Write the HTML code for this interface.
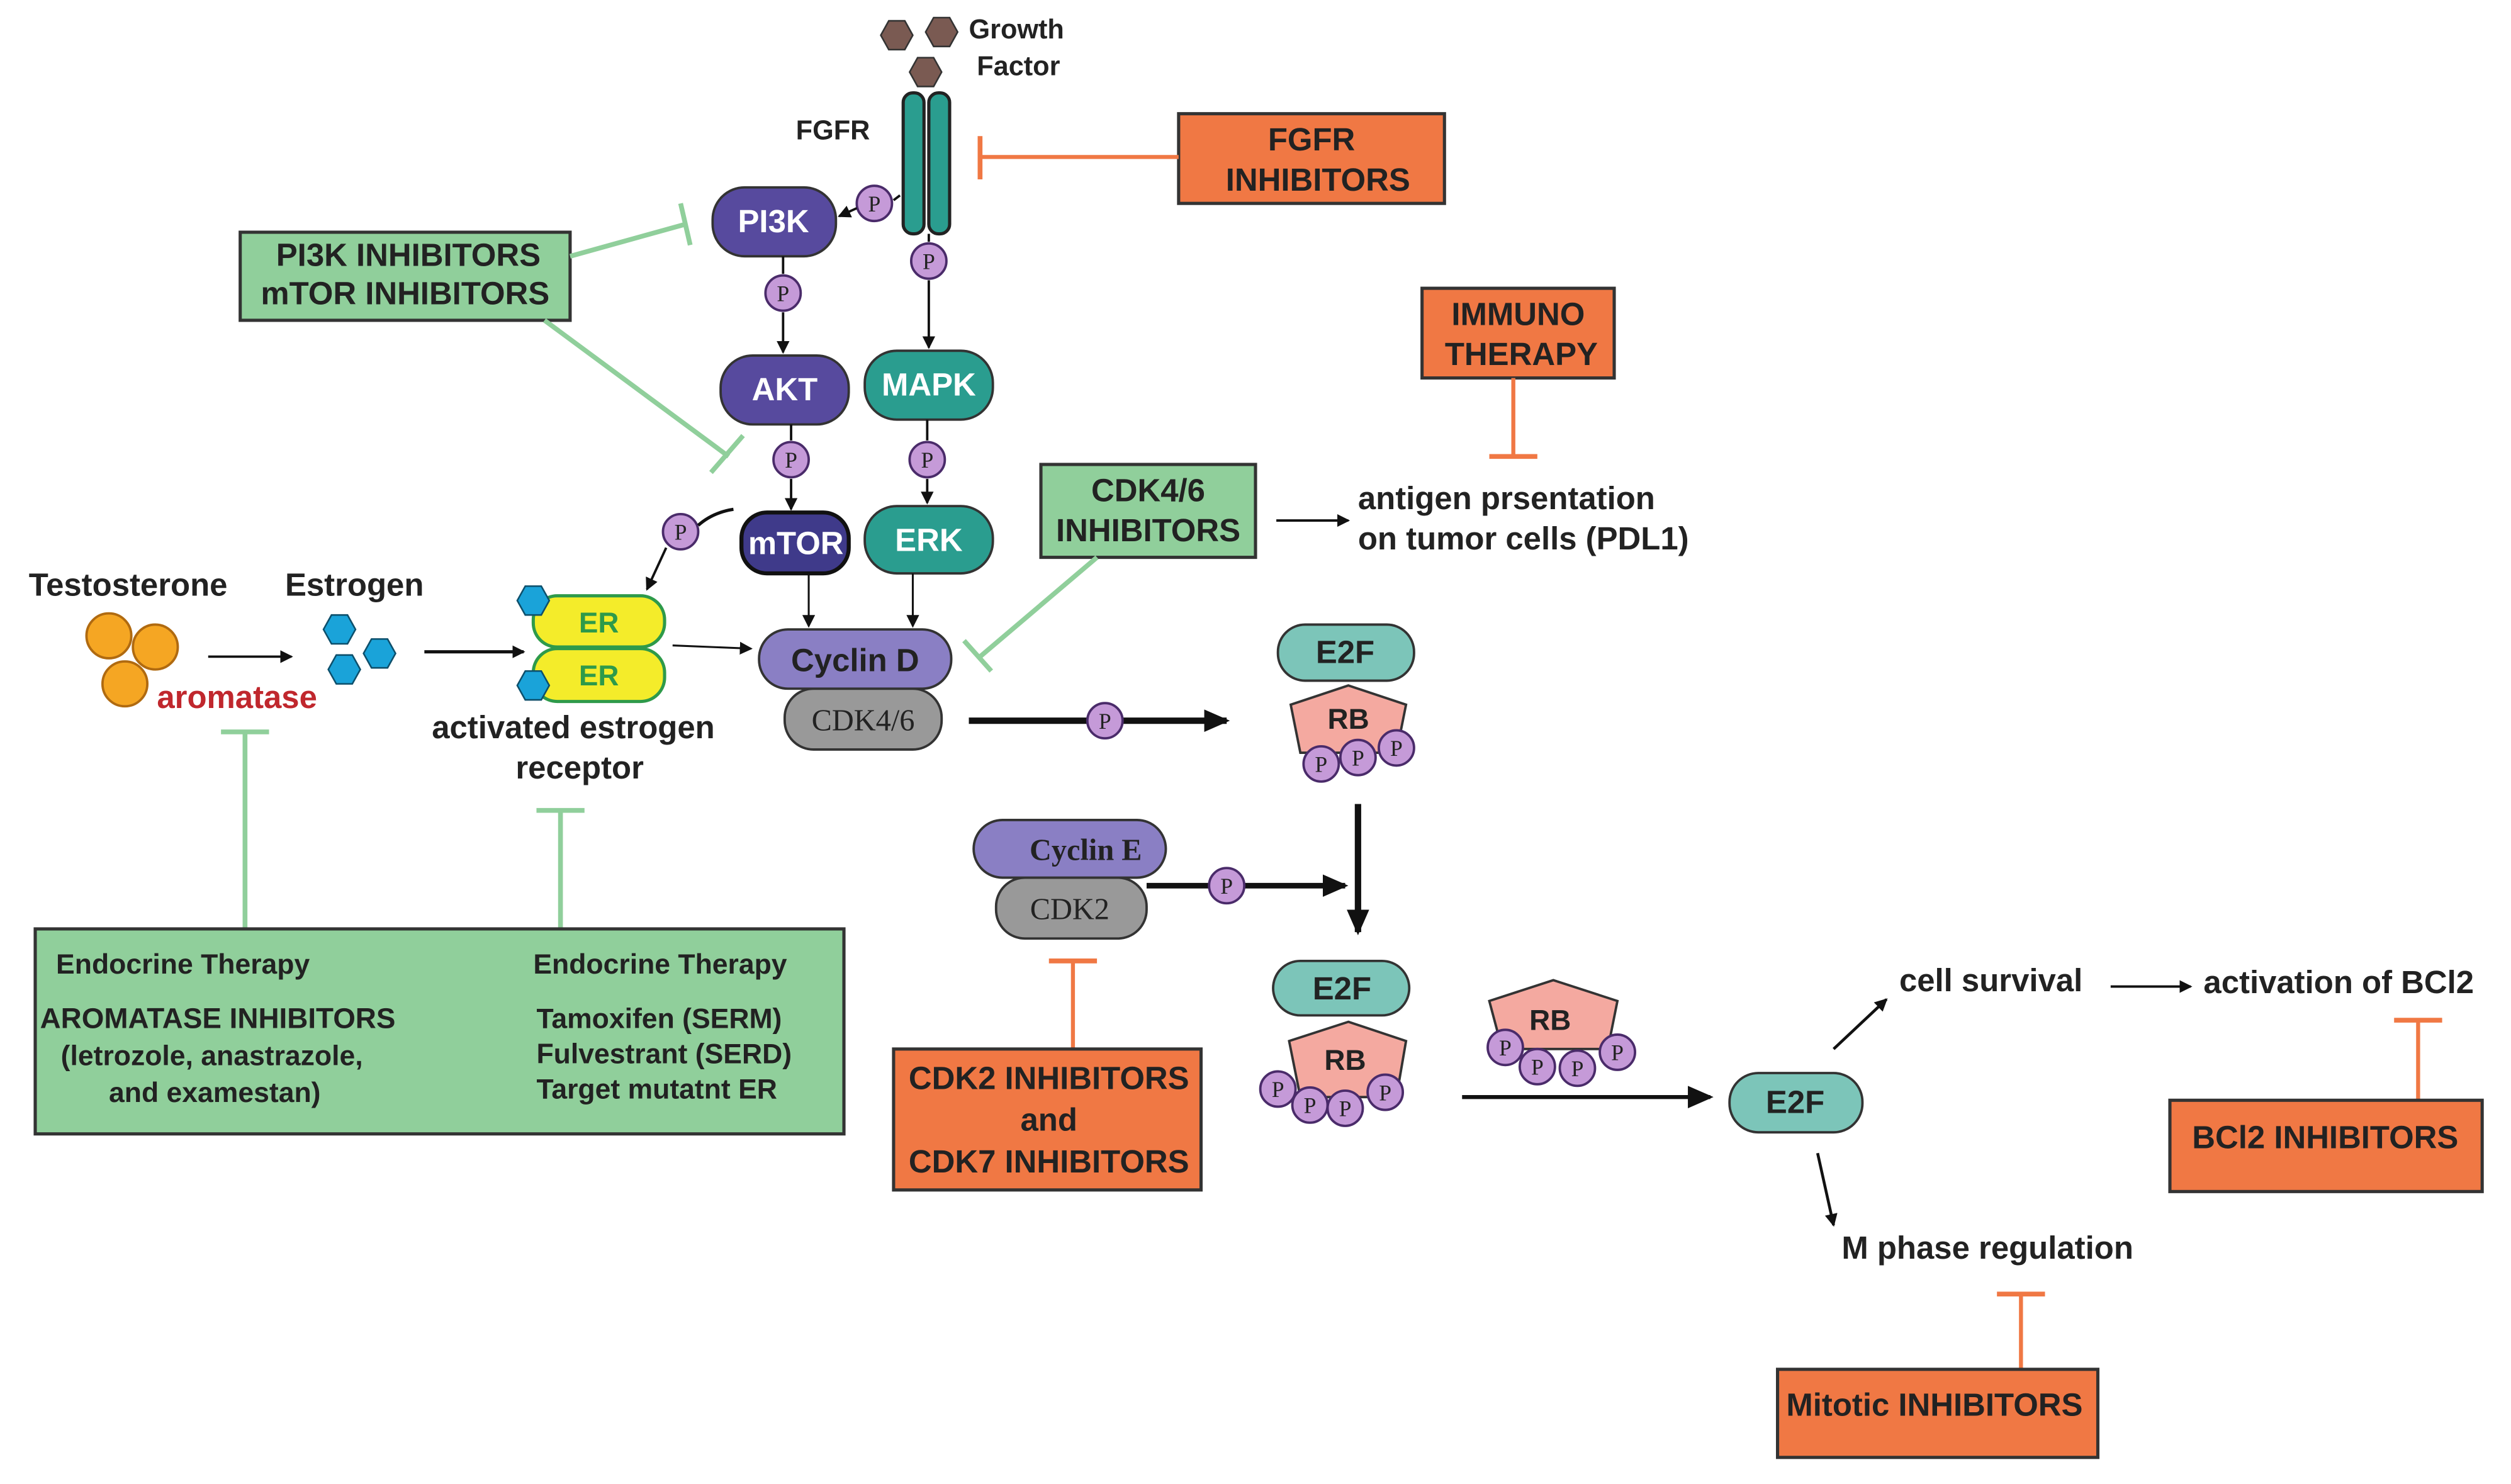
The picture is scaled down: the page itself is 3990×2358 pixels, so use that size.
<!DOCTYPE html>
<html><head><meta charset="utf-8"><style>html,body{margin:0;padding:0;background:#fff}svg{display:block}</style></head><body>
<svg width="3990" height="2358" viewBox="0 0 1568 926.6" preserveAspectRatio="none" xmlns="http://www.w3.org/2000/svg" font-family="Liberation Sans, sans-serif" font-weight="bold">
<defs>
<marker id="a" markerWidth="8" markerHeight="8" refX="7" refY="4" orient="auto" markerUnits="userSpaceOnUse"><path d="M0,0 L8,4 L0,8 z" fill="#111"/></marker>
<marker id="b" markerWidth="16" markerHeight="14" refX="14" refY="7" orient="auto" markerUnits="userSpaceOnUse"><path d="M0,0 L16,7 L0,14 z" fill="#111"/></marker>
<g id="p"><circle r="11" fill="#c59ad8" stroke="#4a2b6a" stroke-width="1.5"/><text y="5" text-anchor="middle" font-size="14" font-weight="normal" font-family="Liberation Serif, serif" fill="#222">P</text></g>
</defs>
<g fill="#7a5a52" stroke="#333" stroke-width="1">
<polygon points="550,22 555,13 565,13 570,22 565,31 555,31"/>
<polygon points="578,20 583,11 593,11 598,20 593,29 583,29"/>
<polygon points="568,45 573,36 583,36 588,45 583,54 573,54"/>
</g>
<text x="605" y="24" font-size="17" fill="#222">Growth</text>
<text x="610" y="47" font-size="17" fill="#222">Factor</text>
<text x="497" y="87" font-size="17" fill="#222">FGFR</text>
<rect x="564" y="58" width="13" height="88" rx="6" fill="#2a9d8f" stroke="#222" stroke-width="2"/>
<rect x="580" y="58" width="13" height="88" rx="6" fill="#2a9d8f" stroke="#222" stroke-width="2"/>
<rect x="736" y="71" width="166" height="56" fill="#f07844" stroke="#333" stroke-width="2"/>
<text x="819" y="94" font-size="20" text-anchor="middle" fill="#222">FGFR</text>
<text x="823" y="119" font-size="20" text-anchor="middle" fill="#222">INHIBITORS</text>
<line x1="736" y1="98" x2="612" y2="98" stroke="#f07844" stroke-width="2.5"/>
<line x1="612" y1="85" x2="612" y2="112" stroke="#f07844" stroke-width="3"/>
<rect x="445" y="117" width="77" height="43" rx="20" fill="#574a9e" stroke="#333" stroke-width="1.5"/>
<text x="483" y="145" font-size="20" text-anchor="middle" fill="#fff">PI3K</text>
<rect x="450" y="222" width="80" height="43" rx="20" fill="#574a9e" stroke="#333" stroke-width="1.5"/>
<text x="490" y="250" font-size="20" text-anchor="middle" fill="#fff">AKT</text>
<rect x="540" y="219" width="80" height="43" rx="20" fill="#2a9d8f" stroke="#333" stroke-width="1.5"/>
<text x="580" y="247" font-size="20" text-anchor="middle" fill="#fff">MAPK</text>
<rect x="463" y="320" width="67" height="38" rx="16" fill="#3f3a8a" stroke="#111" stroke-width="2.5"/>
<text x="497" y="346" font-size="20" text-anchor="middle" fill="#fff">mTOR</text>
<rect x="540" y="316" width="80" height="42" rx="20" fill="#2a9d8f" stroke="#333" stroke-width="1.5"/>
<text x="580" y="344" font-size="20" text-anchor="middle" fill="#fff">ERK</text>
<use href="#p" x="546" y="127"/>
<line x1="562" y1="122" x2="558" y2="125" stroke="#111" stroke-width="1.5"/>
<line x1="535" y1="130" x2="524" y2="135" stroke="#111" stroke-width="1.5" marker-end="url(#a)"/>
<line x1="580" y1="146" x2="580" y2="151" stroke="#111" stroke-width="1.5"/>
<use href="#p" x="580" y="163"/>
<line x1="580" y1="175" x2="580" y2="217" stroke="#111" stroke-width="1.5" marker-end="url(#a)"/>
<line x1="489" y1="160" x2="489" y2="171" stroke="#111" stroke-width="1.5"/>
<use href="#p" x="489" y="183"/>
<line x1="489" y1="195" x2="489" y2="220" stroke="#111" stroke-width="1.5" marker-end="url(#a)"/>
<line x1="494" y1="265" x2="494" y2="275" stroke="#111" stroke-width="1.5"/>
<use href="#p" x="494" y="287"/>
<line x1="494" y1="299" x2="494" y2="318" stroke="#111" stroke-width="1.5" marker-end="url(#a)"/>
<line x1="579" y1="262" x2="579" y2="275" stroke="#111" stroke-width="1.5"/>
<use href="#p" x="579" y="287"/>
<line x1="579" y1="299" x2="579" y2="314" stroke="#111" stroke-width="1.5" marker-end="url(#a)"/>
<use href="#p" x="425" y="332"/>
<path d="M458,318 Q445,320 436,328" stroke="#111" stroke-width="2" fill="none"/>
<line x1="416" y1="342" x2="404" y2="368" stroke="#111" stroke-width="1.5" marker-end="url(#a)"/>
<line x1="505" y1="358" x2="505" y2="391" stroke="#111" stroke-width="1.2" marker-end="url(#a)"/>
<line x1="570" y1="358" x2="570" y2="391" stroke="#111" stroke-width="1.2" marker-end="url(#a)"/>
<rect x="150" y="145" width="206" height="55" fill="#90cf9b" stroke="#333" stroke-width="2"/>
<text x="255" y="166" font-size="20" text-anchor="middle" fill="#222">PI3K INHIBITORS</text>
<text x="253" y="190" font-size="20" text-anchor="middle" fill="#222">mTOR INHIBITORS</text>
<line x1="356" y1="160" x2="428" y2="140" stroke="#90cf9b" stroke-width="3"/>
<line x1="425" y1="127" x2="431" y2="153" stroke="#90cf9b" stroke-width="3"/>
<line x1="340" y1="200" x2="455" y2="285" stroke="#90cf9b" stroke-width="3"/>
<line x1="444" y1="295" x2="464" y2="272" stroke="#90cf9b" stroke-width="3"/>
<text x="18" y="372" font-size="20" fill="#222">Testosterone</text>
<circle cx="68" cy="397" r="14" fill="#f5a623" stroke="#b06a10" stroke-width="1.5"/>
<circle cx="97" cy="404" r="14" fill="#f5a623" stroke="#b06a10" stroke-width="1.5"/>
<circle cx="78" cy="427" r="14" fill="#f5a623" stroke="#b06a10" stroke-width="1.5"/>
<text x="98" y="442" font-size="20" fill="#c0272d">aromatase</text>
<line x1="130" y1="410" x2="182" y2="410" stroke="#111" stroke-width="1.5" marker-end="url(#a)"/>
<text x="178" y="372" font-size="20" fill="#222">Estrogen</text>
<g fill="#1aa3d9" stroke="#0d4f6b" stroke-width="1">
<polygon points="202,393 207,384 217,384 222,393 217,402 207,402"/>
<polygon points="227,408 232,399 242,399 247,408 242,417 232,417"/>
<polygon points="205,418 210,409 220,409 225,418 220,427 210,427"/>
</g>
<line x1="265" y1="407" x2="327" y2="407" stroke="#111" stroke-width="2" marker-end="url(#a)"/>
<rect x="333" y="372" width="82" height="32" rx="15" fill="#f4ec2a" stroke="#2e9a4a" stroke-width="2"/>
<rect x="333" y="405" width="82" height="33" rx="15" fill="#f4ec2a" stroke="#2e9a4a" stroke-width="2"/>
<text x="374" y="395" font-size="18" text-anchor="middle" fill="#2e9a4a">ER</text>
<text x="374" y="428" font-size="18" text-anchor="middle" fill="#2e9a4a">ER</text>
<g fill="#1aa3d9" stroke="#0d4f6b" stroke-width="1">
<polygon points="323,375 328,366 338,366 343,375 338,384 328,384"/>
<polygon points="323,428 328,419 338,419 343,428 338,437 328,437"/>
</g>
<text x="358" y="461" font-size="20" text-anchor="middle" fill="#222">activated estrogen</text>
<text x="362" y="486" font-size="20" text-anchor="middle" fill="#222">receptor</text>
<line x1="420" y1="403" x2="469" y2="405" stroke="#111" stroke-width="1.2" marker-end="url(#a)"/>
<rect x="490" y="430" width="98" height="38" rx="18" fill="#999" stroke="#333" stroke-width="1.5"/>
<text x="539" y="456" font-size="19" text-anchor="middle" font-family="Liberation Serif, serif" font-weight="normal" fill="#222">CDK4/6</text>
<rect x="474" y="393" width="120" height="37" rx="18" fill="#8a7fc4" stroke="#333" stroke-width="1.5"/>
<text x="534" y="419" font-size="20" text-anchor="middle" fill="#222">Cyclin D</text>
<rect x="650" y="290" width="134" height="58" fill="#90cf9b" stroke="#333" stroke-width="2"/>
<text x="717" y="313" font-size="20" text-anchor="middle" fill="#222">CDK4/6</text>
<text x="717" y="338" font-size="20" text-anchor="middle" fill="#222">INHIBITORS</text>
<line x1="685" y1="348" x2="612" y2="410" stroke="#90cf9b" stroke-width="3"/>
<line x1="602" y1="400" x2="619" y2="419" stroke="#90cf9b" stroke-width="3"/>
<line x1="797" y1="325" x2="842" y2="325" stroke="#111" stroke-width="1.5" marker-end="url(#a)"/>
<text x="848" y="318" font-size="20" fill="#222">antigen prsentation</text>
<text x="848" y="343" font-size="20" fill="#222">on tumor cells (PDL1)</text>
<rect x="888" y="180" width="120" height="56" fill="#f07844" stroke="#333" stroke-width="2"/>
<text x="948" y="203" font-size="20" text-anchor="middle" fill="#222">IMMUNO</text>
<text x="950" y="228" font-size="20" text-anchor="middle" fill="#222">THERAPY</text>
<line x1="945" y1="236" x2="945" y2="285" stroke="#f07844" stroke-width="2.5"/>
<line x1="930" y1="285" x2="960" y2="285" stroke="#f07844" stroke-width="3"/>
<line x1="605" y1="450" x2="766" y2="450" stroke="#111" stroke-width="4" marker-end="url(#b)"/>
<use href="#p" x="690" y="450"/>
<rect x="798" y="390" width="85" height="35" rx="17" fill="#7cc5b9" stroke="#333" stroke-width="1.5"/>
<text x="840" y="414" font-size="20" text-anchor="middle" fill="#222">E2F</text>
<polygon points="842,428 878,440 872,470 812,470 806,440" fill="#f4a9a0" stroke="#333" stroke-width="1.5"/>
<text x="842" y="455" font-size="18" text-anchor="middle" fill="#222">RB</text>
<use href="#p" x="825" y="477"/>
<use href="#p" x="848" y="473"/>
<use href="#p" x="872" y="467"/>
<line x1="848" y1="502" x2="848" y2="582" stroke="#111" stroke-width="4" marker-end="url(#b)"/>
<rect x="622" y="548" width="94" height="38" rx="18" fill="#999" stroke="#333" stroke-width="1.5"/>
<text x="668" y="574" font-size="19" text-anchor="middle" font-family="Liberation Serif, serif" font-weight="normal" fill="#222">CDK2</text>
<rect x="608" y="512" width="120" height="36" rx="18" fill="#8a7fc4" stroke="#333" stroke-width="1.5"/>
<text x="678" y="537" font-size="19" text-anchor="middle" font-family="Liberation Serif, serif" fill="#222">Cyclin E</text>
<line x1="716" y1="553" x2="840" y2="553" stroke="#111" stroke-width="3.5" marker-end="url(#b)"/>
<use href="#p" x="766" y="553"/>
<line x1="670" y1="600" x2="670" y2="655" stroke="#f07844" stroke-width="2.5"/>
<line x1="655" y1="600" x2="685" y2="600" stroke="#f07844" stroke-width="3"/>
<rect x="558" y="655" width="192" height="88" fill="#f07844" stroke="#333" stroke-width="2"/>
<text x="655" y="680" font-size="20" text-anchor="middle" fill="#222">CDK2 INHIBITORS</text>
<text x="655" y="706" font-size="20" text-anchor="middle" fill="#222">and</text>
<text x="655" y="732" font-size="20" text-anchor="middle" fill="#222">CDK7 INHIBITORS</text>
<rect x="795" y="600" width="85" height="34" rx="17" fill="#7cc5b9" stroke="#333" stroke-width="1.5"/>
<text x="838" y="624" font-size="20" text-anchor="middle" fill="#222">E2F</text>
<polygon points="842,638 878,650 872,685 812,685 805,650" fill="#f4a9a0" stroke="#333" stroke-width="1.5"/>
<text x="840" y="668" font-size="18" text-anchor="middle" fill="#222">RB</text>
<use href="#p" x="798" y="680"/>
<use href="#p" x="818" y="690"/>
<use href="#p" x="840" y="692"/>
<use href="#p" x="865" y="682"/>
<polygon points="970,612 1010,625 1004,655 938,655 930,625" fill="#f4a9a0" stroke="#333" stroke-width="1.5"/>
<text x="968" y="643" font-size="18" text-anchor="middle" fill="#222">RB</text>
<use href="#p" x="940" y="654"/>
<use href="#p" x="960" y="666"/>
<use href="#p" x="985" y="667"/>
<use href="#p" x="1010" y="657"/>
<line x1="913" y1="685" x2="1068" y2="685" stroke="#111" stroke-width="2.5" marker-end="url(#b)"/>
<rect x="1080" y="670" width="83" height="37" rx="18" fill="#7cc5b9" stroke="#333" stroke-width="1.5"/>
<text x="1121" y="695" font-size="20" text-anchor="middle" fill="#222">E2F</text>
<line x1="1145" y1="655" x2="1178" y2="624" stroke="#111" stroke-width="1.8" marker-end="url(#a)"/>
<text x="1186" y="619" font-size="20" fill="#222">cell survival</text>
<line x1="1318" y1="616" x2="1368" y2="616" stroke="#111" stroke-width="1.5" marker-end="url(#a)"/>
<text x="1376" y="620" font-size="20" fill="#222">activation of BCl2</text>
<line x1="1135" y1="720" x2="1145" y2="765" stroke="#111" stroke-width="1.8" marker-end="url(#a)"/>
<text x="1150" y="786" font-size="20" fill="#222">M phase regulation</text>
<line x1="1510" y1="637" x2="1510" y2="687" stroke="#f07844" stroke-width="2.5"/>
<line x1="1495" y1="637" x2="1525" y2="637" stroke="#f07844" stroke-width="3"/>
<rect x="1355" y="687" width="195" height="57" fill="#f07844" stroke="#333" stroke-width="2"/>
<text x="1452" y="717" font-size="20" text-anchor="middle" fill="#222">BCl2 INHIBITORS</text>
<line x1="1262" y1="808" x2="1262" y2="855" stroke="#f07844" stroke-width="2.5"/>
<line x1="1247" y1="808" x2="1277" y2="808" stroke="#f07844" stroke-width="3"/>
<rect x="1110" y="855" width="200" height="55" fill="#f07844" stroke="#333" stroke-width="2"/>
<text x="1208" y="884" font-size="20" text-anchor="middle" fill="#222">Mitotic INHIBITORS</text>
<line x1="153" y1="457" x2="153" y2="580" stroke="#90cf9b" stroke-width="3"/>
<line x1="138" y1="457" x2="168" y2="457" stroke="#90cf9b" stroke-width="3"/>
<line x1="350" y1="506" x2="350" y2="580" stroke="#90cf9b" stroke-width="3"/>
<line x1="335" y1="506" x2="365" y2="506" stroke="#90cf9b" stroke-width="3"/>
<rect x="22" y="580" width="505" height="128" fill="#90cf9b" stroke="#333" stroke-width="2"/>
<g font-size="17.5" fill="#222">
<text x="35" y="608">Endocrine Therapy</text>
<text x="333" y="608">Endocrine Therapy</text>
<text x="25" y="642" font-size="18">AROMATASE INHIBITORS</text>
<text x="38" y="665">(letrozole, anastrazole,</text>
<text x="68" y="688">and examestan)</text>
<text x="335" y="642">Tamoxifen  (SERM)</text>
<text x="335" y="664">Fulvestrant  (SERD)</text>
<text x="335" y="686">Target mutatnt ER</text>
</g>
</svg>
</body></html>
